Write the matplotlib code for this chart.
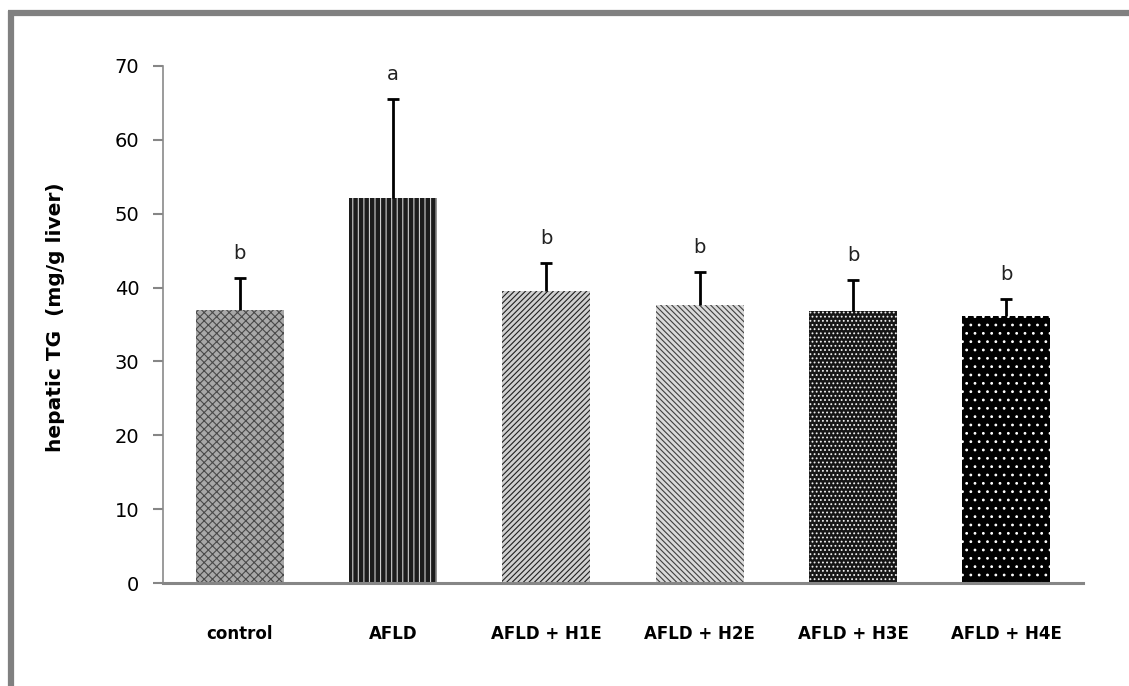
import matplotlib
matplotlib.use("Agg")
import matplotlib.pyplot as plt
from matplotlib.lines import Line2D
import numpy as np

groups = ["control", "AFLD", "AFLD + H1E", "AFLD + H2E", "AFLD + H3E", "AFLD + H4E"]
means = [37.0, 52.1, 39.5, 37.7, 36.8, 36.1]
sds = [4.3, 13.4, 3.8, 4.4, 4.2, 2.4]
letters = ["b", "a", "b", "b", "b", "b"]
yticks = [0, 10, 20, 30, 40, 50, 60, 70]

face = ["#a8a8a8", "#1c1c1c", "#d0d0d0", "#dadada", "#161616", "#000000"]
hatch_col = ["#4a4a4a", "#d0d0d0", "#202020", "#404040", "#f0f0f0", "#ffffff"]
hatches = ["xxxx", "|||", "//////", "\\\\\\\\\\\\", "....", ".."]

plt.rcParams["hatch.linewidth"] = 0.8

fig = plt.figure(figsize=(11.29, 6.86), dpi=100)
ax = fig.add_axes([0.1444, 0.150, 0.8149, 0.7538])

x = np.arange(len(groups))
bars = ax.bar(x, means, width=0.575, color=face, edgecolor=hatch_col, linewidth=0, zorder=2)
for b, h in zip(bars, hatches):
    b.set_hatch(h)

eb = ax.errorbar(x, means, yerr=[np.zeros(len(sds)), sds], fmt="none", ecolor="black",
                 elinewidth=2.0, capsize=4.3, capthick=2.0, zorder=3)
eb[1][0].set_visible(False)  # no cap at the bar top

for xi, m, s, lab in zip(x, means, sds, letters):
    ax.text(xi, m + s + 2.0, lab, ha="center", va="bottom", fontsize=14, color="#222222")

ax.set_ylim(0, 70)
ax.set_xlim(-0.5, len(groups) - 0.5)
ax.set_yticks(yticks)
ax.set_xticks(x)
ax.set_xticklabels(groups, fontsize=12, fontweight="bold")
ax.tick_params(axis="x", length=0, pad=30)
ax.tick_params(axis="y", length=7, width=1.5, color="#868686", labelsize=14, pad=10)

for side in ["top", "right"]:
    ax.spines[side].set_visible(False)
ax.spines["left"].set_color("#8a8a8a")
ax.spines["left"].set_linewidth(1.2)
ax.spines["bottom"].set_color("#868686")
ax.spines["bottom"].set_linewidth(2.2)

fig.text(0.049, 0.538, "hepatic TG  (mg/g liver)", rotation=90, ha="center", va="center",
         fontsize=14.5, fontweight="bold")

# grey frame on the top and left edges
fig.add_artist(Line2D([0.007, 1.0], [0.981, 0.981], color="#808080", linewidth=4.5,
                      transform=fig.transFigure, solid_capstyle="butt"))
fig.add_artist(Line2D([0.0095, 0.0095], [0.0, 0.984], color="#808080", linewidth=4.5,
                      transform=fig.transFigure, solid_capstyle="butt"))

fig.savefig("out.png", dpi=100)
